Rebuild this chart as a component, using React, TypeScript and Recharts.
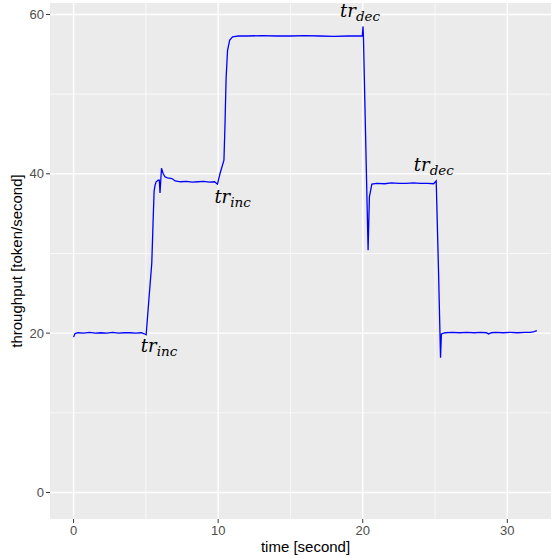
import React from 'react';
import {
  LineChart,
  Line,
  XAxis,
  YAxis,
  CartesianGrid,
  ReferenceLine,
  ReferenceDot,
} from 'recharts';

// time [second]
const time = [
  0, 0.1, 0.3, 0.7, 1.1, 1.5, 1.9, 2.3, 2.7, 3.1, 3.5, 3.9, 4.3, 4.7, 4.85, 5.02,
  5.2, 5.41, 5.5, 5.57, 5.64, 5.71, 5.85, 5.93, 5.98, 6.08, 6.2, 6.33, 6.5, 6.8,
  7.03, 7.4, 7.8, 8.2, 8.6, 9.0, 9.4, 9.75, 9.95, 10.14, 10.4, 10.47, 10.55, 10.65,
  10.8, 11.0, 11.4, 12, 13, 14, 15, 16, 17, 18, 19, 19.6, 19.97, 20.02, 20.05,
  20.37, 20.46, 20.63, 20.97, 21.5, 22, 22.5, 23, 23.5, 24, 24.5, 24.9, 25.08,
  25.24, 25.38, 25.44, 25.7, 26.2, 26.7, 27.2, 27.7, 28.2, 28.55, 28.7, 28.9, 29.2,
  29.7, 30.2, 30.7, 31.2, 31.6, 31.85, 32.04,
];

// throughput [token/second]
const throughput = [
  19.5, 19.95, 20.05, 20.0, 20.1, 20.0, 20.05, 20.0, 20.1, 20.0, 20.05, 20.05, 20.0, 20.05, 19.95, 19.8,
  24, 28.8, 34, 37.8, 38.6, 39.0, 39.2, 39.2, 37.6, 40.7, 40.0, 39.6, 39.5, 39.4,
  39.1, 39.0, 39.05, 38.95, 39.0, 39.05, 38.95, 39.0, 38.7, 40.1, 41.7, 46, 52, 55.5,
  56.8, 57.2, 57.3, 57.3, 57.35, 57.3, 57.3, 57.35, 57.3, 57.25, 57.3, 57.3, 57.3, 58.5, 57.0,
  30.4, 37.1, 38.7, 38.8, 38.75, 38.85, 38.8, 38.8, 38.85, 38.8, 38.8, 38.75, 39.1,
  27.9, 16.9, 19.9, 20.05, 20.1, 20.05, 20.1, 20.05, 20.1, 20.05, 19.9, 20.05, 20.1,
  20.05, 20.1, 20.05, 20.1, 20.1, 20.2, 20.3,
];

const xTicks = [0, 10, 20, 30];
const yTicks = [0, 20, 40, 60];
const xMinor = [5, 15, 25];
const yMinor = [10, 30, 50];

// transition annotations
const annoX = [5.91, 11.0, 19.82, 24.92];
const annoY = [17.6, 36.3, 59.7, 40.4];
const annoSub = ['inc', 'inc', 'dec', 'dec'];

const data = time.map((t, i) => ({ t, v: throughput[i] }));

const sans = 'Liberation Sans, Arial, sans-serif';

const TrLabel = (sub: string) => (props: any) => (
  <text
    x={props.cx}
    y={props.cy}
    textAnchor="middle"
    fontFamily="DejaVu Serif, serif"
    fontStyle="italic"
    fill="#000"
  >
    <tspan fontSize={18}>tr</tspan>
    <tspan fontSize={13.5} dy={4}>{sub}</tspan>
  </text>
);

const App: React.FC = () => {
  return (
    <div style={{ position: 'absolute', left: 0, top: 0, width: 551, height: 558, background: '#fff' }}>
      <LineChart
        width={551}
        height={558}
        data={data}
        margin={{ top: 3, right: 0, bottom: 0, left: 0 }}
      >
        <CartesianGrid
          fill="#EBEBEB"
          stroke="#FFFFFF"
          strokeWidth={1.4}
          horizontalValues={yTicks}
          verticalValues={xTicks}
        />
        {xMinor.map((x) => (
          <ReferenceLine key={'x' + x} x={x} stroke="#FFFFFF" strokeWidth={0.7} />
        ))}
        {yMinor.map((y) => (
          <ReferenceLine key={'y' + y} y={y} stroke="#FFFFFF" strokeWidth={0.7} />
        ))}
        <XAxis
          dataKey="t"
          type="number"
          domain={[-1.63, 33.02]}
          ticks={xTicks}
          allowDataOverflow
          height={39}
          axisLine={false}
          tickLine={{ stroke: '#333333' }}
          tickSize={4}
          tickMargin={3}
          tick={{ fill: '#4D4D4D', fontSize: 13, fontFamily: sans }}
          label={{
            value: 'time [second]',
            position: 'insideBottom',
            offset: 6,
            dx: 5,
            fill: '#000',
            fontSize: 15,
            fontFamily: sans,
          }}
        />
        <YAxis
          type="number"
          domain={[-3.33, 61.44]}
          ticks={yTicks}
          allowDataOverflow
          width={50}
          axisLine={false}
          tickLine={{ stroke: '#333333' }}
          tickSize={4}
          tickMargin={2}
          tick={{ fill: '#4D4D4D', fontSize: 13, fontFamily: sans }}
          label={{
            value: 'throughput [token/second]',
            angle: -90,
            position: 'insideLeft',
            offset: 17,
            fill: '#000',
            fontSize: 15,
            fontFamily: sans,
            style: { textAnchor: 'middle' },
          }}
        />
        <Line
          type="linear"
          dataKey="v"
          stroke="#0000FF"
          strokeWidth={1.3}
          dot={false}
          isAnimationActive={false}
        />
        {annoX.map((x, i) => (
          <ReferenceDot
            key={'a' + i}
            x={x}
            y={annoY[i]}
            r={0}
            ifOverflow="visible"
            shape={TrLabel(annoSub[i])}
          />
        ))}
      </LineChart>
    </div>
  );
};

export default App;
